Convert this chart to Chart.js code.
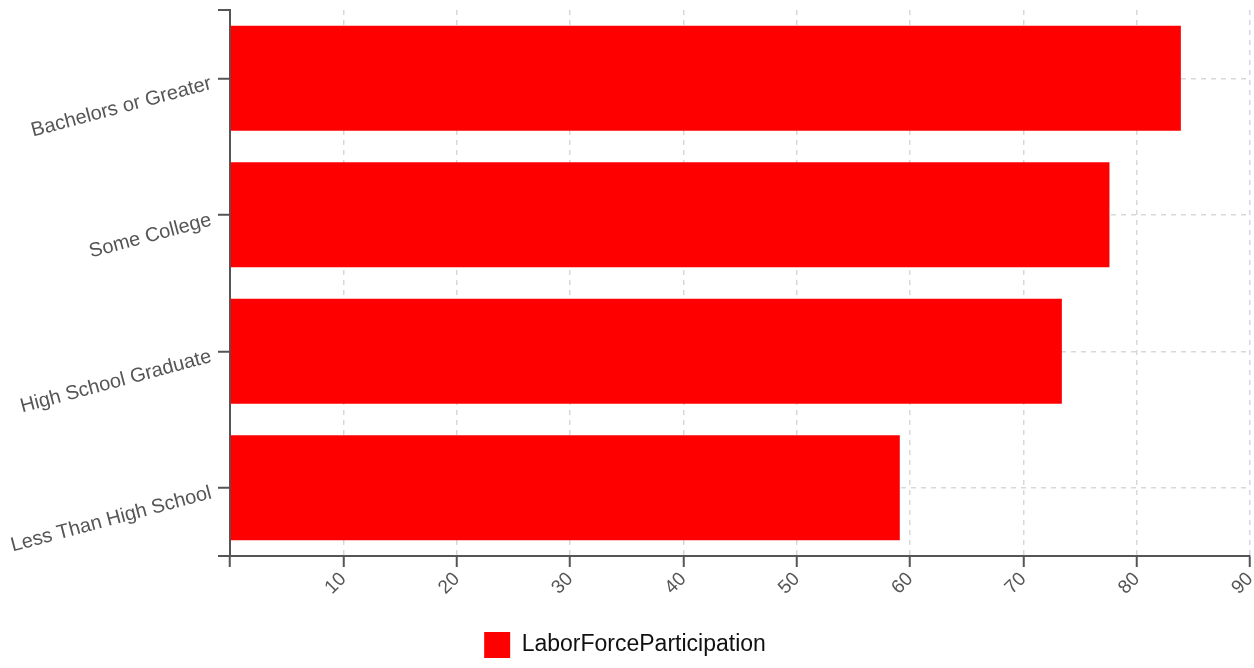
<!DOCTYPE html>
<html>
<head>
<meta charset="utf-8">
<script src="https://cdn.jsdelivr.net/npm/chart.js@4"></script>
<style>
  html, body { margin: 0; padding: 0; background: #fff; }
  #wrap { width: 1254px; height: 668px; position: relative; }
</style>
</head>
<body>
<div id="wrap"><canvas id="c" width="1254" height="668"></canvas></div>
<script>
const categories = ["Bachelors or Greater", "Some College", "High School Graduate", "Less Than High School"];
const seriesName = "LaborForceParticipation";
const laborForceParticipation = [83.9, 77.6, 73.4, 59.1];
const xTicks = [0, 10, 20, 30, 40, 50, 60, 70, 80, 90];

const FONT = "'Liberation Sans', Arial, Helvetica, sans-serif";
const AXIS = '#555';
const GRID = '#d5d9dc';

const outerTicks = {
  id: 'outerTicks',
  afterDraw(chart) {
    const y = chart.scales.y, ctx = chart.ctx;
    ctx.save();
    ctx.strokeStyle = AXIS;
    ctx.lineWidth = 2;
    ctx.beginPath();
    ctx.moveTo(y.right - 12, chart.chartArea.top);
    ctx.lineTo(y.right, chart.chartArea.top);
    ctx.moveTo(y.right - 12, chart.chartArea.bottom);
    ctx.lineTo(y.right, chart.chartArea.bottom);
    ctx.stroke();
    ctx.restore();
  }
};

new Chart(document.getElementById('c'), {
  type: 'bar',
  data: {
    labels: categories,
    datasets: [{
      label: seriesName,
      data: laborForceParticipation,
      backgroundColor: '#ff0000',
      borderWidth: 0,
      categoryPercentage: 1,
      barPercentage: 0.77
    }]
  },
  options: {
    indexAxis: 'y',
    responsive: false,
    animation: false,
    layout: { padding: { top: 10, right: 4, left: 0, bottom: 0 } },
    plugins: {
      tooltip: { enabled: false },
      legend: {
        position: 'bottom',
        labels: {
          boxWidth: 26, boxHeight: 26, padding: 0,
          color: '#111',
          font: { family: FONT, size: 23 }
        }
      }
    },
    scales: {
      x: {
        type: 'linear',
        min: 0, max: 90,
        afterBuildTicks(s) { s.ticks = xTicks.map(v => ({ value: v })); },
        afterFit(s) { s.height = 76; s.paddingRight = 0; s.paddingLeft = 0; },
        ticks: {
          minRotation: 45, maxRotation: 45,
          padding: 1,
          color: AXIS,
          font: { family: FONT, size: 19 },
          callback: v => v === 0 ? '' : String(v)
        },
        grid: {
          color: c => (c.tick && c.tick.value === 0) ? 'rgba(0,0,0,0)' : GRID,
          lineWidth: 1.5,
          tickColor: AXIS, tickLength: 11, tickWidth: 2
        },
        border: { color: AXIS, width: 2, dash: [5, 5] }
      },
      y: {
        afterFit(s) { s.width = 230; s.paddingTop = 0; s.paddingBottom = 0; },
        ticks: {
          minRotation: 15, maxRotation: 15,
          padding: 7,
          labelOffset: 5,
          color: AXIS,
          font: { family: FONT, size: 20 }
        },
        grid: {
          offset: false,
          color: GRID, lineWidth: 1.5,
          tickColor: AXIS, tickLength: 12, tickWidth: 2
        },
        border: { color: AXIS, width: 2, dash: [5, 5] }
      }
    }
  },
  plugins: [outerTicks]
});
</script>
</body>
</html>
